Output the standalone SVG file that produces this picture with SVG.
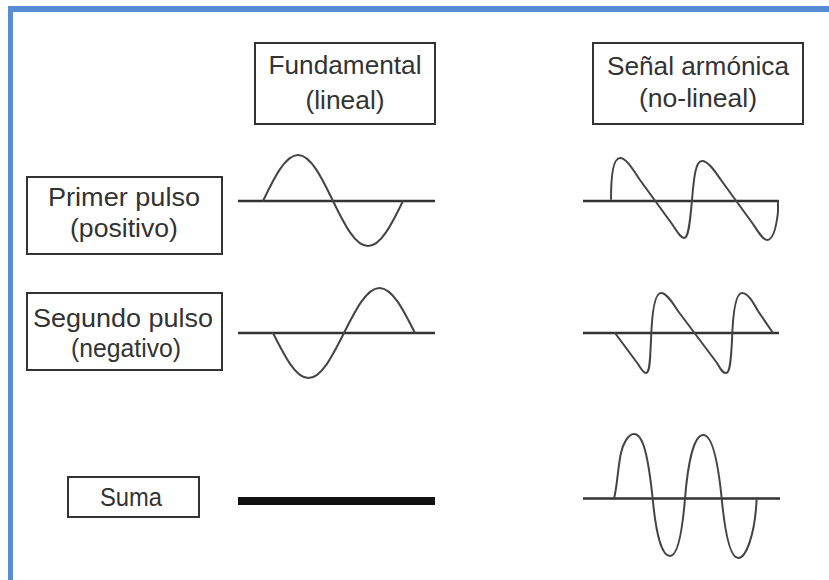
<svg xmlns="http://www.w3.org/2000/svg" width="829" height="580" viewBox="0 0 829 580">
<style>
.box{fill:#fff;stroke:#333;stroke-width:2}
.lbl{font-family:"Liberation Sans",Arial,sans-serif;font-size:26px;fill:#333;text-anchor:middle}
.axis{stroke:#333;stroke-width:2.5;fill:none}
.wave{stroke:#444;stroke-width:2;fill:none;stroke-linejoin:round;stroke-linecap:round}
</style>
<rect width="829" height="580" fill="#fff"/>
<g id="frame" fill="#588dd5">
<rect x="8" y="6" width="821" height="6"/>
<rect x="8" y="6" width="5" height="574"/>
</g>
<g id="fundamental">
<rect class="box" x="255" y="43" width="180" height="81"/>
<text class="lbl" x="345" y="74" textLength="153" lengthAdjust="spacingAndGlyphs">Fundamental</text>
<text class="lbl" x="345" y="109" textLength="79" lengthAdjust="spacingAndGlyphs">(lineal)</text>
</g>
<g id="armonica">
<rect class="box" x="593" y="43" width="210" height="81"/>
<text class="lbl" x="698" y="75" textLength="182" lengthAdjust="spacingAndGlyphs">Señal armónica</text>
<text class="lbl" x="698" y="107" textLength="118" lengthAdjust="spacingAndGlyphs">(no-lineal)</text>
</g>
<g id="primer">
<rect class="box" x="27" y="177" width="195" height="77"/>
<text class="lbl" x="124" y="206" textLength="152" lengthAdjust="spacingAndGlyphs">Primer pulso</text>
<text class="lbl" x="124" y="237" textLength="108" lengthAdjust="spacingAndGlyphs">(positivo)</text>
</g>
<g id="segundo">
<rect class="box" x="27" y="293" width="195" height="77"/>
<text class="lbl" x="123" y="327" textLength="180" lengthAdjust="spacingAndGlyphs">Segundo pulso</text>
<text class="lbl" x="126" y="357" textLength="110" lengthAdjust="spacingAndGlyphs">(negativo)</text>
</g>
<g id="suma">
<rect class="box" x="68" y="477" width="131" height="40"/>
<text class="lbl" x="131" y="506" textLength="62" lengthAdjust="spacingAndGlyphs">Suma</text>
</g>
<g id="wave-fund-1">
<line class="axis" x1="238" y1="201" x2="435" y2="201"/>
<path class="wave" d="M263,201 C274.4,177.4 285.3,155 298,155 C310.7,155 321.6,177.4 333,201 C344.4,224.6 355.3,246 368,246 C380.7,246 391.6,224.6 403,201"/>
</g>
<g id="wave-fund-2">
<line class="axis" x1="238" y1="333" x2="435" y2="333"/>
<path class="wave" d="M273,333 C284.6,356 295.6,378 308.5,378 C321.4,378 332.4,356 344,333 C355.6,310 366.6,288 379.5,288 C392.4,288 403.4,310 415,333"/>
</g>
<g id="wave-fund-sum">
<line x1="238" y1="501" x2="435" y2="501" stroke="#111" stroke-width="8"/>
</g>
<g id="wave-harm-1">
<line class="axis" x1="583" y1="201" x2="779" y2="201"/>
<path class="wave" d="M611,199 C611,178 613,158 620,158 C626,158 632,168 640,180 L672,224 C678,233 681,238 684,238 C689,238 690,220 692,200 C694,175 696,161 702,161 C708,161 714,170 721,180 L753,224 C759,233 763,240 767,240 C772,240 776,230 778,212 L778,201"/>
</g>
<g id="wave-harm-2">
<line class="axis" x1="583" y1="333" x2="779" y2="333"/>
<path class="wave" d="M615,333 L638,364 C641,369 643,373 646,373 C650,373 650,360 651,340 C652,310 655,293 661,293 C666,293 671,300 678,311 L717,363 C720,368 722,373 726,373 C730,373 731,360 732,340 C733,310 736,293 742,293 C748,293 753,302 758,311 L773,333"/>
</g>
<g id="wave-harm-sum">
<line class="axis" x1="583" y1="498.5" x2="780" y2="498.5"/>
<path class="wave" d="M614,498.5 C617,488 618,466 621,453 C623,444 628,434 634,434 C643,434 648,455 652.7,498.5 C656,535 662,556 670,556 C677,556 682,535 685,498.5 C688,462 694,435 703.3,435 C712,435 718,462 721.7,498.5 C725,533 730,558 738.3,558 C746,558 755,535 756.7,498.5"/>
</g>
</svg>
